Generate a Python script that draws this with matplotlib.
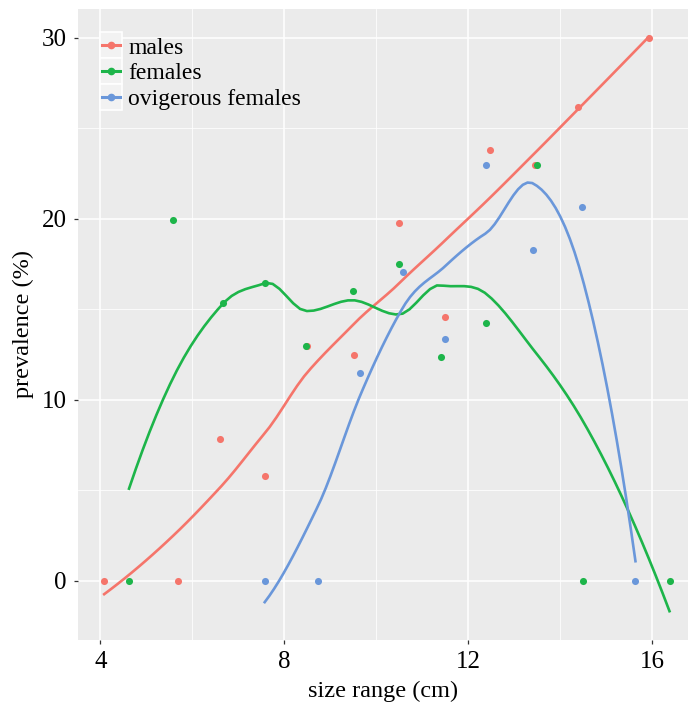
import numpy as np
import matplotlib.pyplot as plt
from matplotlib.lines import Line2D
from matplotlib.patches import Rectangle
from matplotlib.legend_handler import HandlerBase

plt.rcParams['font.family'] = ['Liberation Serif', 'DejaVu Serif']

# data
groups = ['males', 'females', 'ovigerous females']
colors = ['#F5756B', '#1DB54A', '#6A97DA']

males_x = [4.08, 5.68, 6.6, 7.57, 8.5, 9.52, 10.5, 11.48, 12.46, 13.45, 14.37, 15.92]
males_y = [0, 0, 7.85, 5.8, 13.0, 12.5, 19.8, 14.6, 23.8, 23.0, 26.2, 30.0]

females_x = [4.62, 5.58, 6.67, 7.57, 8.46, 9.5, 10.5, 11.41, 12.37, 13.48, 14.5, 16.37]
females_y = [0, 19.95, 15.36, 16.46, 13.0, 16.0, 17.5, 12.4, 14.25, 23.0, 0, 0]

ovig_x = [7.57, 8.72, 9.65, 10.57, 11.5, 12.37, 13.4, 14.47, 15.63]
ovig_y = [0, 0, 11.5, 17.07, 13.37, 23.0, 18.3, 20.66, 0]

xticks = [4, 8, 12, 16]
yticks = [0, 10, 20, 30]


def local_fit(x, y, x0, q):
    # local quadratic with tricube weights -> value and slope at x0
    d = np.abs(x - x0)
    h = np.sort(d)[q - 1]
    w = np.clip(1 - (d / h) ** 3, 0, None) ** 3
    X = np.column_stack([np.ones(len(x)), x - x0, (x - x0) ** 2])
    A = X.T @ (w[:, None] * X)
    b = X.T @ (w * y)
    beta = np.linalg.lstsq(A, b, rcond=None)[0]
    return beta[0], beta[1]


def kd_vertices(x, lo, hi, l, u, out, fc=1):
    # 1-d version of loess' kd tree: split at the median data point
    if u - l + 1 <= fc:
        return
    m = (l + u) // 2
    v = x[m - 1]
    if v == lo or v == hi:
        return
    out.append(v)
    kd_vertices(x, lo, v, l, m, out, fc)
    kd_vertices(x, v, hi, m + 1, u, out, fc)


def loess(x, y, span=0.75, npts=80):
    # loess like R's default: fit at vertices, cubic Hermite in between
    order = np.argsort(x)
    x = np.asarray(x, float)[order]
    y = np.asarray(y, float)[order]
    n = len(x)
    q = int(np.floor(n * span))
    fc = max(int(np.floor(n * span * 0.2)), 1)
    mu = 0.005 * (x.max() - x.min())
    lo, hi = x.min() - mu, x.max() + mu
    inner = []
    kd_vertices(x, lo, hi, 1, n, inner, fc)
    verts = np.array(sorted([lo, hi] + inner))
    vals = np.array([local_fit(x, y, v, q) for v in verts])
    xs = np.linspace(x.min(), x.max(), npts)
    out = []
    for t in xs:
        i = int(np.clip(np.searchsorted(verts, t) - 1, 0, len(verts) - 2))
        x0, x1 = verts[i], verts[i + 1]
        hgt = x1 - x0
        s = (t - x0) / hgt
        f0, d0 = vals[i]
        f1, d1 = vals[i + 1]
        h00 = 2 * s**3 - 3 * s**2 + 1
        h10 = s**3 - 2 * s**2 + s
        h01 = -2 * s**3 + 3 * s**2
        h11 = s**3 - s**2
        out.append(h00 * f0 + h10 * hgt * d0 + h01 * f1 + h11 * hgt * d1)
    return xs, np.array(out)


class KeyHandler(HandlerBase):
    def create_artists(self, legend, orig, xd, yd, width, height, fontsize, trans):
        box = Rectangle((-xd, -yd - 3.5), width, height + 7,
                        facecolor='#F2F2F2', edgecolor='white', lw=1.2, transform=trans)
        ym = height / 2 - yd
        ln = Line2D([-xd + 1.5, -xd + width - 1.5], [ym, ym], color=orig.get_color(),
                    lw=2.2, transform=trans)
        mk = Line2D([-xd + width / 2], [ym], color=orig.get_color(), marker='o',
                    markersize=4.5, lw=0, transform=trans)
        return [box, ln, mk]


fig = plt.figure(figsize=(6.88, 7.02), dpi=100)
ax = fig.add_axes([78 / 688, 62 / 702, 610 / 688, 631 / 702])
ax.set_facecolor('#EBEBEB')

series = [(males_x, males_y), (females_x, females_y), (ovig_x, ovig_y)]
handles = []
for (sx, sy), c, name in zip(series, colors, groups):
    ax.scatter(sx, sy, s=26, color=c, zorder=3, linewidths=0)
    lx, ly = loess(sx, sy)
    ax.plot(lx, ly, color=c, lw=1.9, zorder=4)
    handles.append(Line2D([], [], color=c, marker='o', label=name))

ax.set_xlim(3.511, 16.772)
ax.set_ylim(-3.26, 31.6)
ax.set_xticks(xticks)
ax.set_yticks(yticks)
ax.set_xticks([6, 10, 14], minor=True)
ax.set_yticks([5, 15, 25], minor=True)
ax.grid(which='major', color='white', lw=1.1)
ax.grid(which='minor', color='white', lw=0.55)
ax.set_axisbelow(True)
for s in ax.spines.values():
    s.set_visible(False)
ax.tick_params(which='major', length=3, width=0.9, color='#333333',
               labelsize=18, labelcolor='black', pad=5)
ax.tick_params(which='minor', length=0)

ax.set_xlabel('size range (cm)', fontsize=17.5, labelpad=5.5)
ax.set_ylabel('prevalence (%)', fontsize=17.5, labelpad=6)

ax.legend(handles=handles, handler_map={Line2D: KeyHandler()}, loc='upper left',
          bbox_to_anchor=(22 / 610, 1 - 28 / 631), frameon=False, fontsize=17,
          handlelength=0.95, handleheight=0.7, handletextpad=0.25, labelspacing=0.18,
          borderaxespad=0, borderpad=0)

fig.savefig('out.png', dpi=100)
